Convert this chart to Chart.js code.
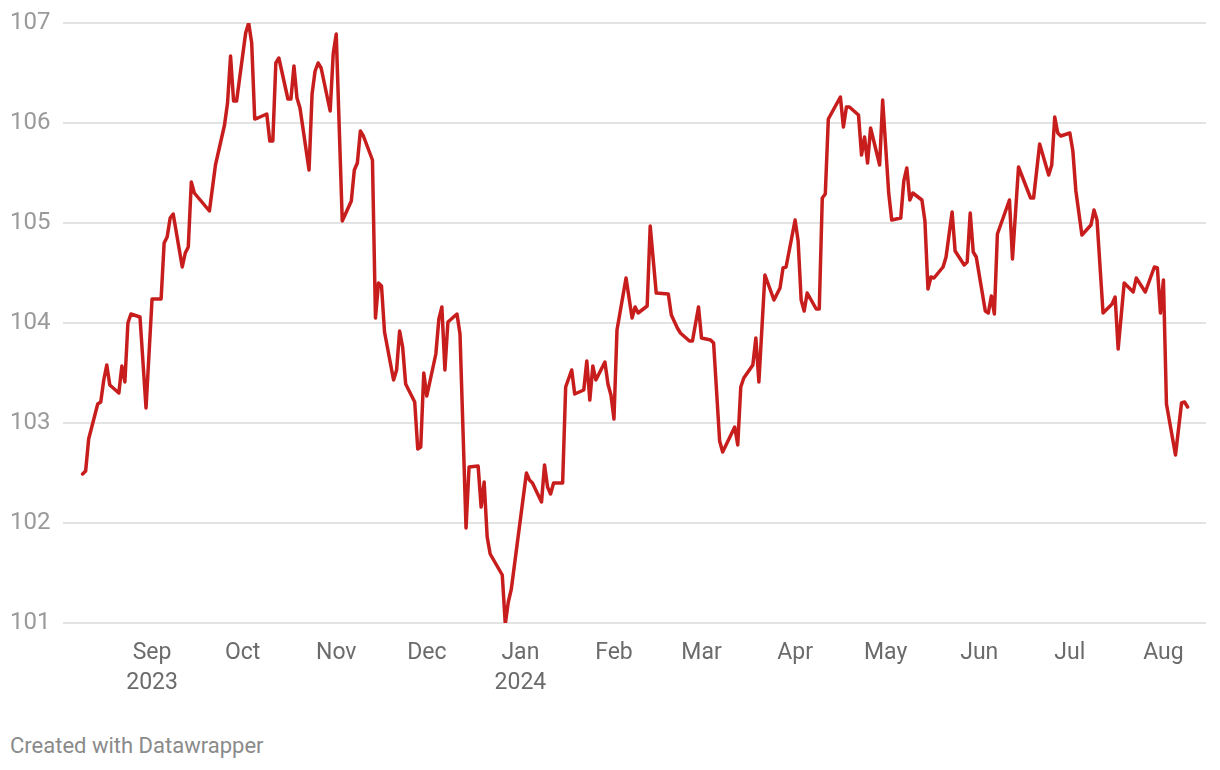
<!DOCTYPE html>
<html>
<head>
<meta charset="utf-8">
<script src="https://cdn.jsdelivr.net/npm/chart.js@4.4.1/dist/chart.umd.min.js"></script>
<style>
  html, body { margin: 0; padding: 0; background: #ffffff; }
  body { width: 1220px; height: 770px; position: relative; overflow: hidden; font-family: Roboto, "Noto Sans", sans-serif; }
  #wrap { position: absolute; left: 0; top: 0; width: 1220px; height: 710px; }
  #footer { position: absolute; left: 10px; top: 733px; font-size: 22px; line-height: normal; color: #8a8a8a; font-family: Roboto, sans-serif; }
</style>
</head>
<body>
<div id="wrap"><canvas id="c"></canvas></div>
<div id="footer">Created with Datawrapper</div>
<script>
// ---- data ----
const dates = [
  "2023-08-09","2023-08-10","2023-08-11","2023-08-14","2023-08-15","2023-08-16","2023-08-17","2023-08-18",
  "2023-08-21","2023-08-22","2023-08-23","2023-08-24","2023-08-25","2023-08-28","2023-08-30","2023-09-01",
  "2023-09-04","2023-09-05","2023-09-06","2023-09-07","2023-09-08","2023-09-11","2023-09-12","2023-09-13",
  "2023-09-14","2023-09-15","2023-09-20","2023-09-22","2023-09-25","2023-09-26","2023-09-27","2023-09-28",
  "2023-09-29","2023-10-02","2023-10-03","2023-10-04","2023-10-05","2023-10-06","2023-10-09","2023-10-10",
  "2023-10-11","2023-10-12","2023-10-13","2023-10-16","2023-10-17","2023-10-18","2023-10-19","2023-10-20",
  "2023-10-23","2023-10-24","2023-10-25","2023-10-26","2023-10-27","2023-10-30","2023-10-31","2023-11-01",
  "2023-11-03","2023-11-06","2023-11-07","2023-11-08","2023-11-09","2023-11-10","2023-11-13","2023-11-14",
  "2023-11-15","2023-11-16","2023-11-17","2023-11-20","2023-11-21","2023-11-22","2023-11-23","2023-11-24",
  "2023-11-27","2023-11-28","2023-11-29","2023-11-30","2023-12-01","2023-12-04","2023-12-05","2023-12-06",
  "2023-12-07","2023-12-08","2023-12-11","2023-12-12","2023-12-14","2023-12-15","2023-12-18","2023-12-19",
  "2023-12-20","2023-12-21","2023-12-22","2023-12-26","2023-12-27","2023-12-28","2023-12-29","2024-01-03",
  "2024-01-04","2024-01-05","2024-01-08","2024-01-09","2024-01-10","2024-01-11","2024-01-12","2024-01-15",
  "2024-01-16","2024-01-18","2024-01-19","2024-01-22","2024-01-23","2024-01-24","2024-01-25","2024-01-26",
  "2024-01-29","2024-01-30","2024-01-31","2024-02-01","2024-02-02","2024-02-05","2024-02-07","2024-02-08",
  "2024-02-09","2024-02-12","2024-02-13","2024-02-15","2024-02-19","2024-02-20","2024-02-22","2024-02-23",
  "2024-02-26","2024-02-27","2024-02-29","2024-03-01","2024-03-04","2024-03-05","2024-03-07","2024-03-08",
  "2024-03-12","2024-03-13","2024-03-14","2024-03-15","2024-03-18","2024-03-19","2024-03-20","2024-03-22",
  "2024-03-25","2024-03-27","2024-03-28","2024-03-29","2024-04-01","2024-04-02","2024-04-03","2024-04-04",
  "2024-04-05","2024-04-08","2024-04-09","2024-04-10","2024-04-11","2024-04-12","2024-04-16","2024-04-17",
  "2024-04-18","2024-04-19","2024-04-22","2024-04-23","2024-04-24","2024-04-25","2024-04-26","2024-04-29",
  "2024-04-30","2024-05-02","2024-05-03","2024-05-06","2024-05-07","2024-05-08","2024-05-09","2024-05-10",
  "2024-05-13","2024-05-14","2024-05-15","2024-05-16","2024-05-17","2024-05-20","2024-05-21","2024-05-23",
  "2024-05-24","2024-05-27","2024-05-28","2024-05-29","2024-05-30","2024-05-31","2024-06-03","2024-06-04",
  "2024-06-05","2024-06-06","2024-06-07","2024-06-11","2024-06-12","2024-06-14","2024-06-18","2024-06-19",
  "2024-06-21","2024-06-24","2024-06-25","2024-06-26","2024-06-27","2024-06-28","2024-07-01","2024-07-02",
  "2024-07-03","2024-07-05","2024-07-08","2024-07-09","2024-07-10","2024-07-12","2024-07-15","2024-07-16",
  "2024-07-17","2024-07-19","2024-07-22","2024-07-23","2024-07-26","2024-07-29","2024-07-30","2024-07-31",
  "2024-08-01","2024-08-02","2024-08-05","2024-08-07","2024-08-08","2024-08-09"
];
const values = [
  102.49,102.52,102.84,103.19,103.21,103.43,103.58,103.38,
  103.30,103.57,103.41,104.00,104.09,104.06,103.15,104.24,
  104.24,104.80,104.86,105.05,105.09,104.56,104.70,104.76,
  105.41,105.30,105.12,105.58,105.98,106.20,106.67,106.22,
  106.22,106.90,107.00,106.80,106.04,106.05,106.09,105.82,
  105.82,106.60,106.65,106.24,106.24,106.57,106.25,106.15,
  105.53,106.29,106.52,106.60,106.55,106.12,106.69,106.89,
  105.02,105.22,105.53,105.60,105.92,105.87,105.63,104.05,
  104.40,104.37,103.91,103.43,103.53,103.92,103.76,103.39,
  103.21,102.74,102.76,103.50,103.27,103.69,104.04,104.16,
  103.53,104.01,104.09,103.89,101.95,102.56,102.57,102.16,
  102.41,101.86,101.69,101.48,100.99,101.21,101.34,102.50,
  102.43,102.40,102.21,102.58,102.36,102.29,102.40,102.40,
  103.36,103.53,103.29,103.33,103.62,103.23,103.57,103.43,
  103.61,103.39,103.28,103.04,103.93,104.45,104.05,104.16,
  104.10,104.17,104.97,104.30,104.29,104.08,103.95,103.90,
  103.82,103.82,104.16,103.85,103.83,103.80,102.82,102.71,
  102.96,102.78,103.36,103.45,103.58,103.85,103.41,104.48,
  104.23,104.35,104.55,104.56,105.03,104.82,104.23,104.12,
  104.30,104.14,104.14,105.25,105.29,106.04,106.26,105.96,
  106.16,106.16,106.08,105.68,105.86,105.60,105.95,105.58,
  106.23,105.30,105.03,105.05,105.42,105.55,105.23,105.30,
  105.23,105.02,104.34,104.46,104.45,104.56,104.66,105.11,
  104.72,104.58,104.61,105.10,104.71,104.66,104.12,104.10,
  104.27,104.09,104.89,105.23,104.64,105.56,105.25,105.25,
  105.79,105.48,105.58,106.06,105.90,105.87,105.90,105.72,
  105.32,104.88,104.98,105.13,105.03,104.10,104.19,104.26,
  103.74,104.40,104.31,104.45,104.31,104.56,104.55,104.10,
  104.43,103.19,102.68,103.20,103.21,103.16
];
const tickDates = ["2023-09-01","2023-10-01","2023-11-01","2023-12-01","2024-01-01","2024-02-01",
                   "2024-03-01","2024-04-01","2024-05-01","2024-06-01","2024-07-01","2024-08-01"];
const tickLabels = [["Sep","2023"],"Oct","Nov","Dec",["Jan","2024"],"Feb","Mar","Apr","May","Jun","Jul","Aug"];
const yTicks = [101,102,103,104,105,106,107];
const axisRange = ["2023-08-02","2024-08-15"];

// ---- helpers ----
const ORIGIN = Date.UTC(2023, 8, 1);
function dayNum(s) {
  const [y, m, d] = s.split("-").map(Number);
  return (Date.UTC(y, m - 1, d) - ORIGIN) / 86400000;
}
const points = dates.map((d, i) => ({ x: dayNum(d), y: values[i] }));
const tickValues = tickDates.map(dayNum);

new Chart(document.getElementById("c"), {
  type: "line",
  data: {
    datasets: [{
      data: points,
      borderColor: "#c71e1d",
      borderWidth: 3.5,
      pointRadius: 0,
      pointHoverRadius: 0,
      tension: 0,
      borderJoinStyle: "round",
      borderCapStyle: "round",
      fill: false
    }]
  },
  options: {
    responsive: true,
    maintainAspectRatio: false,
    animation: false,
    events: [],
    layout: { padding: { left: 10, right: 14, top: 23, bottom: 0 } },
    plugins: { legend: { display: false }, tooltip: { enabled: false }, title: { display: false } },
    scales: {
      x: {
        type: "linear",
        min: dayNum(axisRange[0]) + 0.5,
        max: dayNum(axisRange[1]) + 0.1,
        grid: { display: false, drawTicks: false },
        border: { display: false },
        afterBuildTicks: (scale) => { scale.ticks = tickValues.map(v => ({ value: v })); },
        afterFit: (scale) => { scale.height = 87; },
        ticks: {
          autoSkip: false,
          maxRotation: 0,
          padding: 15,
          color: "#6b6b6b",
          font: { family: "Roboto", size: 23, lineHeight: 1.3 },
          callback: (value, index) => tickLabels[index]
        }
      },
      y: {
        min: yTicks[0],
        max: yTicks[yTicks.length - 1],
        afterBuildTicks: (scale) => { scale.ticks = yTicks.map(v => ({ value: v })); },
        afterFit: (scale) => { scale.width = 53; },
        grid: { color: "#e3e3e3", lineWidth: 2, drawTicks: false },
        border: { display: false },
        ticks: {
          padding: 0,
          crossAlign: "far",
          color: "#9a9a9a",
          font: { family: "Roboto", size: 24 }
        }
      }
    }
  }
});
</script>
</body>
</html>
